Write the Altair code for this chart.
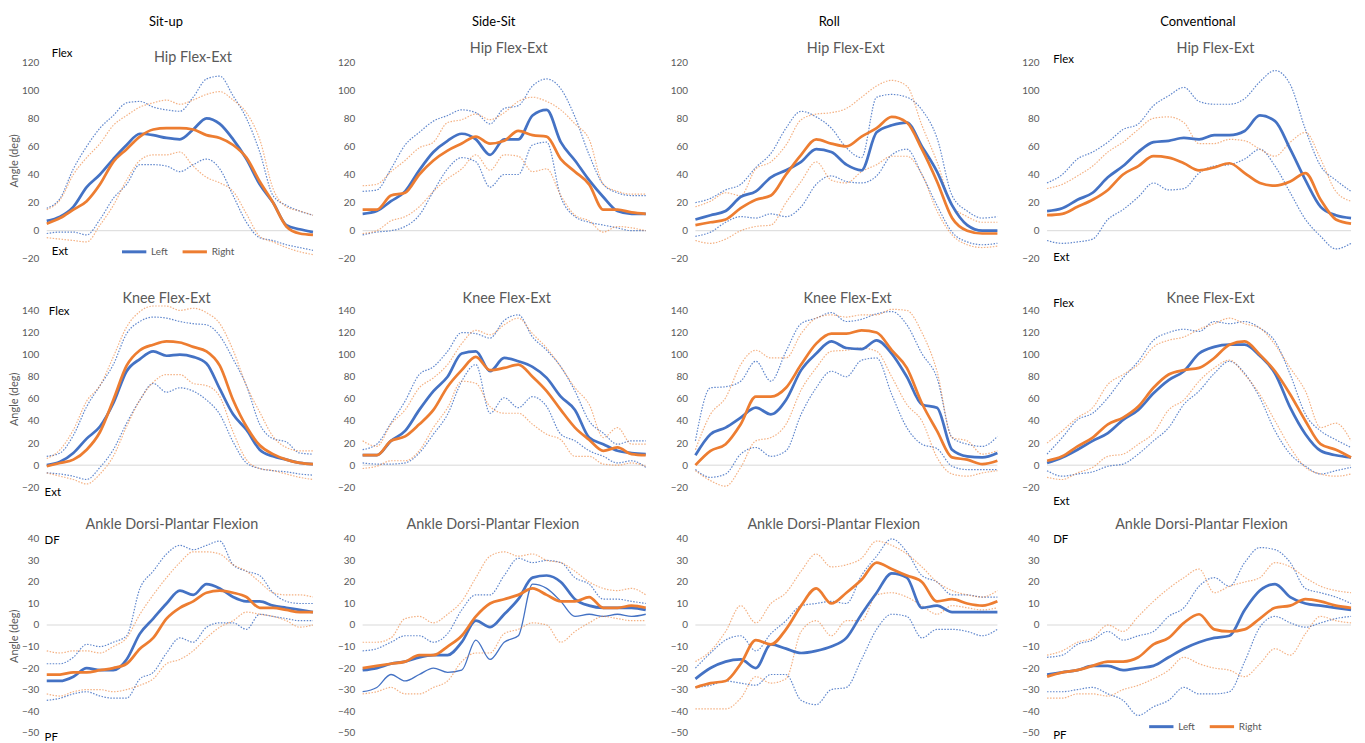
import altair as alt
import pandas as pd

PCT = list(range(0, 101, 5))
COLUMNS = ["Sit-up", "Side-Sit", "Roll", "Conventional"]
ROW_TITLES = ["Hip Flex-Ext", "Knee Flex-Ext", "Ankle Dorsi-Plantar Flexion"]
SIDES = ["Left", "Right"]

# ---------------- Hip ----------------
HIP_SITUP_L = [7, 10, 17, 31, 40, 51, 61, 69, 68, 66, 65, 72, 80, 76, 65, 51, 33, 20, 4, 1, -1]
HIP_SITUP_L_UP = [16, 23, 44, 60, 73, 82, 91, 92, 88, 86, 85, 95, 108, 110, 96, 80, 56, 25, 18, 14, 11]
HIP_SITUP_L_LO = [-2, -1, -1, -3, 8, 23, 33, 47, 47, 46, 42, 47, 51, 44, 25, 6, -5, -7, -10, -12, -14]
HIP_SITUP_R = [5, 9, 15, 21, 33, 49, 58, 67, 72, 73, 73, 72, 68, 66, 61, 52, 35, 20, 3, -2, -3]
HIP_SITUP_R_UP = [15, 22, 40, 52, 62, 75, 82, 88, 91, 93, 90, 93, 97, 99, 93, 84, 65, 30, 17, 14, 11]
HIP_SITUP_R_LO = [-5, -6, -7, -8, 4, 18, 36, 50, 54, 54, 56, 46, 38, 34, 28, 12, -4, -8, -12, -15, -17]

HIP_SIDE_L = [12, 14, 21, 28, 43, 56, 64, 69, 65, 54, 65, 65, 82, 86, 63, 50, 36, 24, 14, 12, 12]
HIP_SIDE_L_UP = [28, 29, 44, 61, 70, 78, 82, 86, 84, 76, 87, 89, 103, 108, 101, 81, 54, 33, 27, 25, 25]
HIP_SIDE_L_LO = [-3, -1, 0, 3, 11, 28, 44, 52, 49, 31, 40, 40, 61, 63, 24, 10, 6, 4, 2, 0, 0]
HIP_SIDE_R = [15, 15, 25, 27, 40, 50, 57, 62, 67, 62, 64, 71, 68, 67, 51, 42, 33, 15, 15, 13, 12]
HIP_SIDE_R_UP = [32, 33, 42, 50, 59, 63, 77, 79, 83, 79, 84, 92, 95, 92, 86, 76, 65, 33, 28, 26, 26]
HIP_SIDE_R_LO = [-2, 0, 7, 10, 17, 28, 37, 44, 54, 43, 54, 53, 42, 44, 25, 11, 7, -1, 3, 2, 0]

HIP_ROLL_L = [8, 11, 14, 24, 28, 38, 43, 49, 58, 56, 47, 43, 70, 75, 77, 60, 42, 18, 4, 0, 0]
HIP_ROLL_L_UP = [20, 23, 29, 33, 45, 55, 73, 85, 81, 73, 59, 52, 95, 97, 95, 86, 66, 25, 14, 9, 10]
HIP_ROLL_L_LO = [-4, -1, 6, 10, 9, 12, 10, 17, 33, 39, 35, 34, 39, 54, 58, 40, 18, -1, -8, -10, -9]
HIP_ROLL_R = [4, 6, 8, 16, 22, 25, 40, 54, 65, 62, 60, 67, 73, 81, 77, 58, 35, 9, 0, -2, -2]
HIP_ROLL_R_UP = [17, 21, 27, 25, 44, 49, 61, 79, 83, 84, 87, 95, 103, 107, 103, 75, 49, 18, 10, 6, 6]
HIP_ROLL_R_LO = [-7, -9, -6, 0, 3, 4, 20, 35, 49, 36, 34, 42, 47, 53, 53, 40, 14, -3, -10, -12, -11]

HIP_CONV_L = [14, 16, 22, 27, 38, 46, 56, 63, 64, 66, 65, 68, 68, 71, 82, 78, 58, 36, 17, 11, 9]
HIP_CONV_L_UP = [34, 40, 51, 56, 63, 72, 76, 89, 96, 102, 92, 90, 90, 94, 106, 114, 104, 72, 46, 36, 28]
HIP_CONV_L_LO = [-7, -9, -8, -6, 8, 15, 24, 34, 29, 30, 41, 46, 47, 51, 58, 46, 27, 8, -4, -13, -9]
HIP_CONV_R = [11, 12, 17, 22, 29, 40, 46, 53, 52, 48, 43, 45, 48, 41, 34, 32, 35, 41, 22, 8, 5]
HIP_CONV_R_UP = [30, 33, 39, 46, 56, 63, 72, 80, 81, 77, 62, 62, 65, 64, 58, 53, 63, 70, 51, 28, 21]

# ---------------- Knee ----------------
KNEE_SITUP_L = [0, 3, 11, 24, 35, 56, 85, 96, 103, 99, 100, 98, 92, 69, 46, 32, 14, 8, 5, 2, 1]
KNEE_SITUP_L_UP = [8, 11, 27, 53, 72, 91, 119, 130, 134, 133, 130, 128, 127, 117, 96, 72, 37, 24, 21, 11, 10]
KNEE_SITUP_L_LO = [-7, -8, -10, -13, -2, 14, 38, 59, 74, 66, 70, 67, 59, 46, 21, 2, -3, -5, -6, -8, -9]
KNEE_SITUP_R = [-1, 2, 5, 14, 30, 59, 90, 104, 109, 112, 111, 107, 103, 90, 59, 35, 18, 10, 5, 2, 1]
KNEE_SITUP_R_UP = [6, 14, 32, 58, 72, 98, 125, 139, 144, 144, 140, 142, 138, 128, 104, 72, 48, 26, 16, 13, 13]
KNEE_SITUP_R_LO = [-7, -10, -13, -17, -8, 8, 35, 59, 75, 82, 82, 74, 72, 62, 30, 5, -3, -5, -8, -11, -13]

KNEE_SIDE_L = [9, 9, 22, 31, 50, 67, 80, 101, 103, 85, 97, 94, 89, 79, 62, 50, 25, 19, 13, 11, 10]
KNEE_SIDE_L_UP = [14, 19, 38, 58, 82, 89, 103, 120, 119, 115, 131, 136, 116, 104, 89, 67, 40, 29, 19, 22, 22]
KNEE_SIDE_L_LO = [2, 1, 1, 2, 11, 28, 46, 76, 91, 47, 61, 52, 62, 53, 28, 22, 13, 8, 2, 4, -2]
KNEE_SIDE_R = [9, 9, 22, 26, 37, 50, 71, 86, 98, 86, 88, 91, 80, 67, 50, 34, 23, 13, 16, 10, 9]
KNEE_SIDE_R_UP = [22, 17, 37, 50, 70, 79, 91, 110, 122, 118, 127, 133, 119, 106, 89, 70, 55, 25, 34, 19, 19]
KNEE_SIDE_R_LO = [-3, -1, 4, 4, 13, 34, 52, 76, 74, 53, 47, 47, 37, 28, 23, 8, 8, 1, 0, 2, -1]

KNEE_ROLL_L = [9, 28, 34, 43, 52, 46, 59, 86, 101, 112, 106, 105, 113, 101, 80, 55, 52, 14, 8, 7, 11]
KNEE_ROLL_L_UP = [22, 70, 71, 76, 94, 76, 103, 128, 133, 138, 130, 132, 137, 139, 127, 101, 79, 25, 19, 17, 26]
KNEE_ROLL_L_LO = [-4, -11, -8, 10, 16, 8, 13, 46, 70, 85, 80, 95, 97, 64, 34, 19, 15, -1, -4, -4, -4]
KNEE_ROLL_R = [0, 13, 19, 37, 62, 62, 70, 91, 110, 119, 119, 122, 120, 104, 88, 56, 31, 7, 5, 1, 4]
KNEE_ROLL_R_UP = [14, 46, 61, 91, 104, 97, 97, 119, 133, 136, 134, 136, 136, 141, 140, 120, 85, 25, 22, 10, 13]
KNEE_ROLL_R_LO = [-5, -14, -19, -2, 22, 25, 37, 68, 88, 103, 104, 106, 103, 80, 55, 40, 7, -8, -10, -7, -5]

KNEE_CONV_L = [2, 7, 14, 22, 29, 41, 50, 65, 77, 85, 101, 107, 109, 109, 99, 83, 52, 28, 13, 9, 7]
KNEE_CONV_L_UP = [10, 25, 41, 47, 61, 79, 94, 113, 120, 123, 121, 130, 128, 130, 124, 112, 82, 46, 31, 23, 16]
KNEE_CONV_L_LO = [-5, -10, -8, -6, -1, 1, 10, 22, 34, 55, 67, 83, 94, 83, 61, 31, 10, -1, -8, -5, -2]
KNEE_CONV_R = [4, 8, 17, 25, 37, 43, 53, 70, 82, 86, 88, 97, 109, 112, 100, 85, 64, 40, 19, 14, 7]
KNEE_CONV_R_UP = [20, 31, 43, 52, 73, 82, 91, 107, 113, 116, 123, 128, 133, 128, 124, 109, 88, 67, 34, 38, 22]
KNEE_CONV_R_LO = [-11, -13, -7, -2, 8, 10, 19, 29, 50, 59, 76, 88, 95, 82, 64, 40, 16, -2, -8, -10, -8]

# ---------------- Ankle ----------------
ANK_SITUP_L = [-26, -26, -24, -20, -21, -21, -16, -4, 3, 10, 16, 14, 19, 17, 13, 11, 11, 9, 8, 7, 6]
ANK_SITUP_L_UP = [-18, -18, -15, -9, -10, -8, -5, 17, 25, 33, 37, 35, 37, 39, 28, 25, 23, 15, 11, 10, 10]
ANK_SITUP_L_LO = [-35, -34, -32, -31, -33, -34, -34, -25, -22, -13, -6, -8, -1, 1, 1, -2, 5, 4, 3, 2, 2]
ANK_SITUP_R = [-23, -23, -22, -22, -21, -20, -18, -11, -6, 3, 8, 11, 15, 16, 15, 13, 8, 8, 7, 6, 6]
ANK_SITUP_R_UP = [-12, -13, -12, -12, -13, -10, -6, 5, 14, 22, 29, 34, 34, 33, 28, 25, 20, 15, 14, 14, 13]
ANK_SITUP_R_LO = [-32, -33, -31, -30, -30, -31, -30, -28, -25, -18, -16, -12, -6, -1, 2, 6, 5, 4, 2, -1, 0]

ANK_SIDE_L = [-21, -20, -18, -17, -15, -14, -14, -8, 2, -1, 5, 12, 22, 23, 20, 12, 9, 8, 8, 8, 7]
ANK_SIDE_L_UP = [-12, -11, -8, -5, -5, -8, -4, 7, 14, 14, 23, 31, 29, 30, 29, 22, 19, 12, 12, 11, 10]
ANK_SIDE_L_LO = [-31, -29, -23, -26, -23, -20, -22, -21, -7, -16, -8, -5, 19, 17, 11, 4, 5, 4, 5, 4, 5]
ANK_SIDE_R = [-20, -19, -18, -17, -14, -14, -10, -5, 4, 10, 12, 14, 17, 14, 11, 11, 13, 8, 8, 9, 8]
ANK_SIDE_R_UP = [-8, -8, -6, 3, 4, 1, 5, 11, 22, 32, 34, 32, 33, 30, 29, 25, 20, 17, 16, 17, 14]
ANK_SIDE_R_LO = [-32, -31, -29, -32, -32, -29, -26, -17, -13, -13, -4, -2, 1, 0, -8, -3, 1, 4, 3, 2, 2]

ANK_ROLL_L = [-25, -20, -17, -16, -20, -9, -11, -13, -12, -10, -6, 5, 15, 24, 22, 8, 9, 6, 6, 6, 6]
ANK_ROLL_L_UP = [-20, -13, -7, -5, -12, -4, 2, 9, 10, 11, 10, 23, 32, 40, 34, 23, 20, 14, 14, 13, 13]
ANK_ROLL_L_LO = [-29, -28, -26, -27, -28, -23, -23, -35, -37, -30, -29, -16, -2, 5, 4, -6, -2, -2, -3, -5, -2]
ANK_ROLL_R = [-29, -27, -26, -18, -7, -9, -2, 9, 17, 10, 15, 21, 29, 26, 23, 20, 11, 12, 10, 9, 11]
ANK_ROLL_R_UP = [-17, -12, -3, 9, 1, 10, 15, 25, 33, 27, 28, 31, 39, 37, 33, 27, 20, 16, 14, 13, 16]
ANK_ROLL_R_LO = [-39, -39, -39, -34, -24, -27, -25, -3, 2, -5, 2, 2, 14, 15, 13, 9, 5, 9, 8, 7, 8]

ANK_CONV_L = [-23, -22, -21, -19, -19, -21, -20, -19, -15, -11, -8, -6, -5, 7, 16, 19, 13, 10, 9, 8, 7]
ANK_CONV_L_UP = [-15, -14, -9, -7, -3, -7, -5, -3, 4, 8, 18, 22, 18, 29, 36, 35, 29, 17, 15, 13, 10]
ANK_CONV_L_LO = [-31, -31, -30, -29, -32, -35, -42, -38, -35, -29, -32, -32, -31, -17, -1, 4, 1, -1, 1, 3, 4]
ANK_CONV_R = [-24, -22, -21, -19, -17, -17, -15, -9, -6, 1, 5, -2, -3, -2, 3, 8, 9, 12, 11, 9, 8]
ANK_CONV_R_UP = [-14, -12, -8, -6, 0, -3, 4, 11, 17, 22, 26, 15, 18, 20, 22, 29, 27, 22, 18, 16, 15]
ANK_CONV_R_LO = [-34, -34, -32, -32, -33, -30, -28, -25, -21, -15, -18, -20, -21, -24, -18, -11, -14, -4, 4, 2, 1]

PANEL_DATA = [
    [
        dict(L=HIP_SITUP_L, L_UP=HIP_SITUP_L_UP, L_LO=HIP_SITUP_L_LO, R=HIP_SITUP_R, R_UP=HIP_SITUP_R_UP, R_LO=HIP_SITUP_R_LO),
        dict(L=HIP_SIDE_L, L_UP=HIP_SIDE_L_UP, L_LO=HIP_SIDE_L_LO, R=HIP_SIDE_R, R_UP=HIP_SIDE_R_UP, R_LO=HIP_SIDE_R_LO),
        dict(L=HIP_ROLL_L, L_UP=HIP_ROLL_L_UP, L_LO=HIP_ROLL_L_LO, R=HIP_ROLL_R, R_UP=HIP_ROLL_R_UP, R_LO=HIP_ROLL_R_LO),
        dict(L=HIP_CONV_L, L_UP=HIP_CONV_L_UP, L_LO=HIP_CONV_L_LO, R=HIP_CONV_R, R_UP=HIP_CONV_R_UP),
    ],
    [
        dict(L=KNEE_SITUP_L, L_UP=KNEE_SITUP_L_UP, L_LO=KNEE_SITUP_L_LO, R=KNEE_SITUP_R, R_UP=KNEE_SITUP_R_UP, R_LO=KNEE_SITUP_R_LO),
        dict(L=KNEE_SIDE_L, L_UP=KNEE_SIDE_L_UP, L_LO=KNEE_SIDE_L_LO, R=KNEE_SIDE_R, R_UP=KNEE_SIDE_R_UP, R_LO=KNEE_SIDE_R_LO),
        dict(L=KNEE_ROLL_L, L_UP=KNEE_ROLL_L_UP, L_LO=KNEE_ROLL_L_LO, R=KNEE_ROLL_R, R_UP=KNEE_ROLL_R_UP, R_LO=KNEE_ROLL_R_LO),
        dict(L=KNEE_CONV_L, L_UP=KNEE_CONV_L_UP, L_LO=KNEE_CONV_L_LO, R=KNEE_CONV_R, R_UP=KNEE_CONV_R_UP, R_LO=KNEE_CONV_R_LO),
    ],
    [
        dict(L=ANK_SITUP_L, L_UP=ANK_SITUP_L_UP, L_LO=ANK_SITUP_L_LO, R=ANK_SITUP_R, R_UP=ANK_SITUP_R_UP, R_LO=ANK_SITUP_R_LO),
        dict(L=ANK_SIDE_L, L_UP=ANK_SIDE_L_UP, L_LO=ANK_SIDE_L_LO, R=ANK_SIDE_R, R_UP=ANK_SIDE_R_UP, R_LO=ANK_SIDE_R_LO),
        dict(L=ANK_ROLL_L, L_UP=ANK_ROLL_L_UP, L_LO=ANK_ROLL_L_LO, R=ANK_ROLL_R, R_UP=ANK_ROLL_R_UP, R_LO=ANK_ROLL_R_LO),
        dict(L=ANK_CONV_L, L_UP=ANK_CONV_L_UP, L_LO=ANK_CONV_L_LO, R=ANK_CONV_R, R_UP=ANK_CONV_R_UP, R_LO=ANK_CONV_R_LO),
    ],
]

# SD series drawn as a thin solid line instead of dotted (Side-Sit ankle, left lower)
SOLID_SD = {(2, 1): {"L_LO"}}

# ---------------- layout / style ----------------
BLUE, ORANGE = "#4472C4", "#ED7D31"
GREY = "#595959"
FONT = "Lato"
COL_W = [268, 285, 304, 306]
ROWS = [
    dict(domain=[-20, 120], ticks=list(range(-20, 121, 20)), height=198, title_y=[122.8, 129.2, 129.2, 129.2]),
    dict(domain=[-20, 140], ticks=list(range(-20, 141, 20)), height=178, title_y=[150.0] * 4),
    dict(domain=[-50, 40], ticks=list(range(-50, 41, 10)), height=195, title_y=[46.5] * 4),
]
TITLE_X = [[54.9, 51.6, 49.8, 55.4], [45.0, 50.9, 50.4, 53.8], [47.0, 46.0, 45.8, 50.8]]
HEADER_X = [44.8, 46.3, 44.3, 49.6]
HEADER_Y = 148.3
NOTES = {
    (0, 0): [("Flex", 1.9, 125.7), ("Ext", 1.9, -15.0)],
    (0, 3): [("Flex", 2.0, 121.4), ("Ext", 2.0, -19.3)],
    (1, 0): [("Flex", 0.8, 138.2), ("Ext", -0.8, -25.4)],
    (1, 3): [("Flex", 2.0, 145.4), ("Ext", 2.0, -33.5)],
    (2, 0): [("DF", -0.8, 39.1), ("PF", -0.8, -52.3)],
    (2, 3): [("DF", 2.0, 39.6), ("PF", 2.0, -51.8)],
}
LEGENDS = {(0, 0): (74, 177), (2, 3): (101, 175)}


def long_df(series, r, c):
    rows = []
    for key, vals in series.items():
        assert len(vals) == len(PCT), key
        side = "Left" if key.startswith("L") else "Right"
        stat = "mean" if "_" not in key else key.split("_")[1].lower()
        style = "solid" if key in SOLID_SD.get((r, c), set()) else "dot"
        for p, v in zip(PCT, vals):
            rows.append(dict(pct=p, value=v, side=side, stat=stat, style=style))
    return pd.DataFrame(rows)


def make_panel(r, c):
    cfg = ROWS[r]
    df = long_df(PANEL_DATA[r][c], r, c)
    xs = alt.Scale(domain=[0, 100], nice=False, zero=False)
    ys = alt.Scale(domain=cfg["domain"], nice=False, zero=False)
    yaxis = alt.Axis(
        values=cfg["ticks"], grid=False, domain=False, ticks=False,
        labelColor=GREY, labelFontSize=10, labelFont=FONT, labelPadding=8,
        title="Angle (deg)" if c == 0 else None,
        titleColor=GREY, titleFontSize=11, titleFontWeight="normal", titleFont=FONT, titlePadding=2,
    )

    def X(f):
        return alt.X(f, type="quantitative", scale=xs, axis=None)

    def Y(f):
        return alt.Y(f, type="quantitative", scale=ys, axis=yaxis)

    layers = [
        alt.Chart(pd.DataFrame({"value": [0]})).mark_rule(color="#d9d9d9", strokeWidth=1).encode(y=Y("value"))
    ]
    sd = df[df["stat"] != "mean"]
    for side, col, op in (("Left", BLUE, 0.85), ("Right", ORANGE, 0.6)):
        dot = sd[(sd["side"] == side) & (sd["style"] == "dot")]
        if len(dot):
            layers.append(
                alt.Chart(dot).mark_line(color=col, strokeWidth=1.2, strokeDash=[1.5, 1.5], opacity=op,
                                         interpolate="monotone")
                .encode(x=X("pct"), y=Y("value"), detail="stat:N")
            )
        solid = sd[(sd["side"] == side) & (sd["style"] == "solid")]
        if len(solid):
            layers.append(
                alt.Chart(solid).mark_line(color=col, strokeWidth=1.3, interpolate="monotone")
                .encode(x=X("pct"), y=Y("value"), detail="stat:N")
            )

    if (r, c) in LEGENDS:
        lx, ly = LEGENDS[(r, c)]
        legend = alt.Legend(orient="none", legendX=lx, legendY=ly, direction="horizontal", title=None,
                            symbolType="stroke", symbolSize=600, symbolStrokeWidth=3, labelFont=FONT,
                            labelFontSize=10, labelColor=GREY, labelOffset=3, columnPadding=8, padding=0)
    else:
        legend = None
    mean = df[df["stat"] == "mean"]
    layers.append(
        alt.Chart(mean).mark_line(strokeWidth=2.75, interpolate="monotone")
        .encode(x=X("pct"), y=Y("value"),
                color=alt.Color("side:N", scale=alt.Scale(domain=SIDES, range=[BLUE, ORANGE]), legend=legend))
    )

    # panel title
    tdf = pd.DataFrame({"x": [TITLE_X[r][c]], "y": [cfg["title_y"][c]], "t": [ROW_TITLES[r]]})
    layers.append(
        alt.Chart(tdf).mark_text(font=FONT, fontSize=14.5, color=GREY, align="center", baseline="middle")
        .encode(x=X("x"), y=Y("y"), text="t:N")
    )
    if r == 0:
        hdf = pd.DataFrame({"x": [HEADER_X[c]], "y": [HEADER_Y], "t": [COLUMNS[c]]})
        layers.append(
            alt.Chart(hdf).mark_text(font=FONT, fontSize=13, color="black", align="center", baseline="middle")
            .encode(x=X("x"), y=Y("y"), text="t:N")
        )
    if (r, c) in NOTES:
        ndf = pd.DataFrame(NOTES[(r, c)], columns=["t", "x", "y"])
        layers.append(
            alt.Chart(ndf).mark_text(font=FONT, fontSize=11.5, color="black", align="left", baseline="middle")
            .encode(x=X("x"), y=Y("y"), text="t:N")
        )
    return alt.layer(*layers).properties(width=COL_W[c], height=cfg["height"])


panels = [make_panel(r, c) for r in range(3) for c in range(4)]

chart = (
    alt.concat(*panels, columns=4, spacing={"row": 52, "column": 50}, bounds="flush")
    .resolve_scale(color="independent")
    .resolve_legend(color="independent")
    .properties(padding={"left": 0, "top": 5, "right": 0, "bottom": 0})
    .configure(font=FONT)
    .configure_view(strokeWidth=0)
)

chart.save("out.html", embed_options={"renderer": "svg", "actions": False})
